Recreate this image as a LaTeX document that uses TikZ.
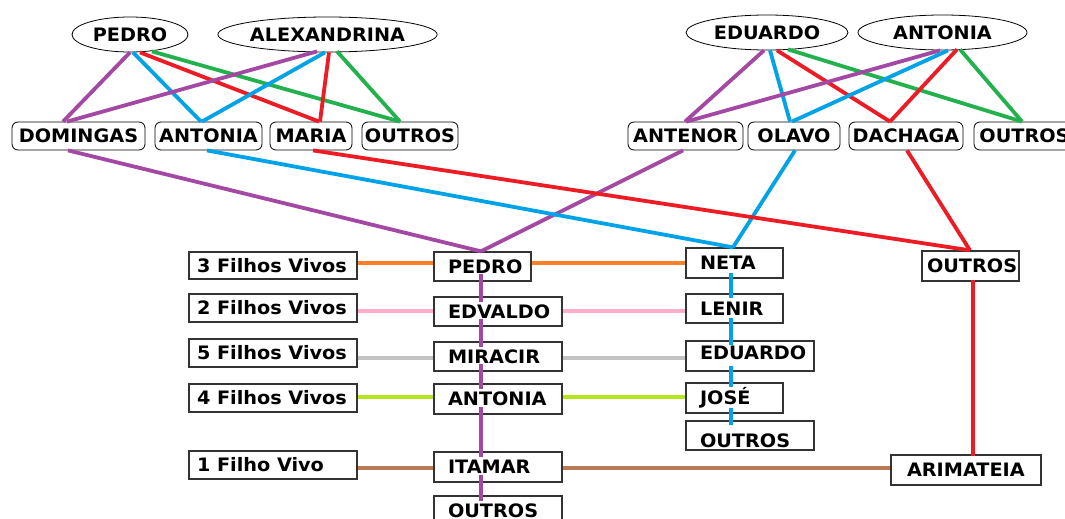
\documentclass[tikz,border=0pt]{standalone}
\usepackage{fontspec}
\setmainfont{DejaVu Sans}[FakeStretch=1.04]
\usetikzlibrary{shapes.geometric,calc}
\definecolor{cPurple}{HTML}{A349A4}
\definecolor{cBlue}{HTML}{00A2E8}
\definecolor{cRed}{HTML}{ED1C24}
\definecolor{cGreen}{HTML}{22B14C}
\definecolor{cOrange}{HTML}{FF7F27}
\definecolor{cPink}{HTML}{FFAEC9}
\definecolor{cGrey}{HTML}{C3C3C3}
\definecolor{cLime}{HTML}{B5E61D}
\definecolor{cBrown}{HTML}{B97A57}
\newcommand{\lfttext}[3]{\makebox[#1pt][l]{\hspace{#2pt}#3}}
\begin{document}
\begin{tikzpicture}[x=1pt,y=-1pt,
  every node/.style={font=\fontsize{18.5}{21}\selectfont\bfseries, text height=13.4pt, text depth=0pt},
  ell/.style={shape=ellipse, draw=black, line width=0.8pt, inner sep=0pt, minimum height=35pt},
  rbox/.style={draw=black, line width=0.8pt, rounded corners=6pt, inner sep=0pt, minimum height=28pt},
  sbox/.style={draw=black!80, line width=1.3pt, inner sep=0pt},
  thick4/.style={line width=3.8pt},
  thick3/.style={line width=3.2pt}]
\useasboundingbox (0,0) rectangle (1065,519);
\fill[white] (0,0) rectangle (1065,519);

% top ellipses
\node[ell, minimum width=116pt] (e1) at (130,34.5) {PEDRO};
\node[ell, minimum width=191pt] (e2) at (327.5,34.5) {ALEXANDRINA};
\node[ell, minimum width=162pt] (e3) at (767,32.5) {EDUARDO};
\node[ell, minimum width=169pt] (e4) at (942.5,32.5) {ANTONIA};

% second row
\node[rbox, minimum width=133pt] (r1) at (78.5,136) {DOMINGAS};
\node[rbox, minimum width=107pt] (r2) at (208.5,136) {ANTONIA};
\node[rbox, minimum width=82pt] (r3) at (311,136) {MARIA};
\node[rbox, minimum width=96pt] (r4) at (410,136) {OUTROS};
\node[rbox, minimum width=115pt] (r5) at (685.5,136) {ANTENOR};
\node[rbox, minimum width=92pt] (r6) at (794,136) {OLAVO};
\node[rbox, minimum width=114pt] (r7) at (906,136) {DACHAGA};
\node[rbox, minimum width=101pt] (r8) at (1024.5,136) {OUTROS};

% left column
\node[sbox, minimum height=27pt] (l1) at (273,265.5) {\lfttext{168}{8}{3 Filhos Vivos}};
\node[sbox, minimum height=28pt] (l2) at (273,308) {\lfttext{168}{8}{2 Filhos Vivos}};
\node[sbox, minimum height=28pt] (l3) at (273,353) {\lfttext{168}{8}{5 Filhos Vivos}};
\node[sbox, minimum height=28pt] (l4) at (273,398) {\lfttext{168}{8}{4 Filhos Vivos}};
\node[sbox, minimum height=28pt] (l5) at (273,465) {\lfttext{168}{8}{1 Filho Vivo}};

% middle column
\node[sbox, minimum height=29pt] (m1) at (482.5,266.5) {\lfttext{97}{14}{PEDRO}};
\node[sbox, minimum height=29pt] (m2) at (498,311.5) {\lfttext{128}{14}{EDVALDO}};
\node[sbox, minimum height=29pt] (m3) at (498,356.5) {\lfttext{128}{14}{MIRACIR}};
\node[sbox, minimum height=30pt] (m4) at (498,399) {\lfttext{128}{14}{ANTONIA}};
\node[sbox, minimum height=30pt] (m5) at (498,467) {\lfttext{128}{14}{ITAMAR}};
\node[sbox, minimum height=30pt] (m6) at (498,511) {\lfttext{128}{14}{OUTROS}};

% right column
\node[sbox, minimum height=30pt] (n1) at (734.5,263) {\lfttext{97}{14}{NETA}};
\node[sbox, minimum height=29pt] (n2) at (734.5,308.5) {\lfttext{97}{14}{LENIR}};
\node[sbox, minimum height=30pt] (n3) at (750,356) {\lfttext{128}{14}{\raisebox{3pt}{EDUARDO}}};
\node[sbox, minimum height=30pt] (n4) at (734.5,398) {\lfttext{97}{14}{JOSÉ}};
\node[sbox, minimum height=29pt] (n5) at (750,435.5) {\lfttext{128}{14}{\raisebox{-5pt}{OUTROS}}};

% far right
\node[sbox, minimum height=30pt] (o1) at (970.5,266) {\lfttext{97}{5}{OUTROS}};
\node[sbox, minimum height=30pt] (a1) at (966,470) {\lfttext{150}{16}{ARIMATEIA}};

% top-left connectors
\draw[thick4, cPurple] (e1.south) -- ($(r1.north)+(-15.5,0)$);
\draw[thick4, cBlue]   ($(e1.south)+(3,0)$) -- ($(r2.north)+(-7.5,0)$);
\draw[thick4, cRed]    ($(e1.south)+(10,0)$) -- ($(r3.north)+(8,0)$);
\draw[thick4, cGreen]  ($(e1.south)+(22,-1)$) -- ($(r4.north)+(-10,0)$);
\draw[thick4, cPurple] ($(e2.south)+(-10.5,-1)$) -- ($(r1.north)+(-11.5,0)$);
\draw[thick4, cBlue]   ($(e2.south)+(-2.5,0)$) -- ($(r2.north)+(-6.5,0)$);
\draw[thick4, cRed]    ($(e2.south)+(1.5,0)$) -- ($(r3.north)+(9,0)$);
\draw[thick4, cGreen]  ($(e2.south)+(9.5,-1)$) -- ($(r4.north)+(-10,0)$);

% top-right connectors
\draw[thick4, cPurple] ($(e3.south)+(-3,0)$) -- ($(r5.north)+(-0.5,0)$);
\draw[thick4, cBlue]   ($(e3.south)+(3,0)$) -- ($(r6.north)+(-4,0)$);
\draw[thick4, cRed]    ($(e3.south)+(10,0)$) -- ($(r7.north)+(-16,0)$);
\draw[thick4, cGreen]  ($(e3.south)+(21,-1)$) -- ($(r8.north)+(-2.5,0)$);
\draw[thick4, cPurple] ($(e4.south)+(-2.5,0)$) -- ($(r5.north)+(1,0)$);
\draw[thick4, cBlue]   ($(e4.south)+(5.5,0)$) -- ($(r6.north)+(-2,0)$);
\draw[thick4, cRed]    ($(e4.south)+(14.5,-1)$) -- ($(r7.north)+(-16,0)$);
\draw[thick4, cGreen]  ($(e4.south)+(17.5,-1)$) -- ($(r8.north)+(-2.5,0)$);

% second row to third row
\draw[thick4, cPurple] ($(r1.south)+(-10.5,0)$) -- ($(m1.north)+(-1.5,0)$);
\draw[thick4, cPurple] ($(r5.south)+(-2.5,0)$) -- ($(m1.north)+(-1.5,0)$);
\draw[thick4, cBlue]   ($(r2.south)+(-1.5,0)$) -- ($(n1.north)+(-1.5,0)$);
\draw[thick4, cBlue]   ($(r6.south)+(1,0)$) -- ($(n1.north)+(-1.5,0)$);
\draw[thick4, cRed]    ($(r3.south)+(2,0)$) -- ($(o1.north)+(-0.5,0)$);
\draw[thick4, cRed]    ($(r7.south)+(1,0)$) -- ($(o1.north)+(-0.5,0)$);

% horizontal links
\foreach \l/\m/\r/\c/\d in {l1/m1/n1/cOrange/-3.5, l2/m2/n2/cPink/-0.5, l3/m3/n3/cGrey/1.5, l4/m4/n4/cLime/-2, l5/m5/a1/cBrown/1}{
  \draw[thick3, \c] ($(\m.west)+(0,\d)$) -- ($(\m.west -| \l.east)+(0,\d)$);
  \draw[thick3, \c] ($(\m.east)+(0,\d)$) -- ($(\m.east -| \r.west)+(0,\d)$);
}

% vertical purple chain
\foreach \a/\b in {m1/m2, m2/m3, m3/m4, m4/m5, m5/m6}{
  \draw[thick4, cPurple] ($(m1.south |- \a.south)+(-1.5,-8)$) -- ($(m1.south |- \b.north)+(-1.5,6)$);
}
% vertical blue chain
\foreach \a/\b in {n1/n2, n2/n3, n3/n4, n4/n5}{
  \draw[thick4, cBlue] ($(n1.south |- \a.south)+(-3.5,-6)$) -- ($(n1.south |- \b.north)+(-3.5,5)$);
}
% vertical red
\draw[thick4, cRed] ($(o1.south)+(2.5,-2)$) -- ($(o1.south |- a1.north)+(2.5,2)$);
\end{tikzpicture}
\end{document}
